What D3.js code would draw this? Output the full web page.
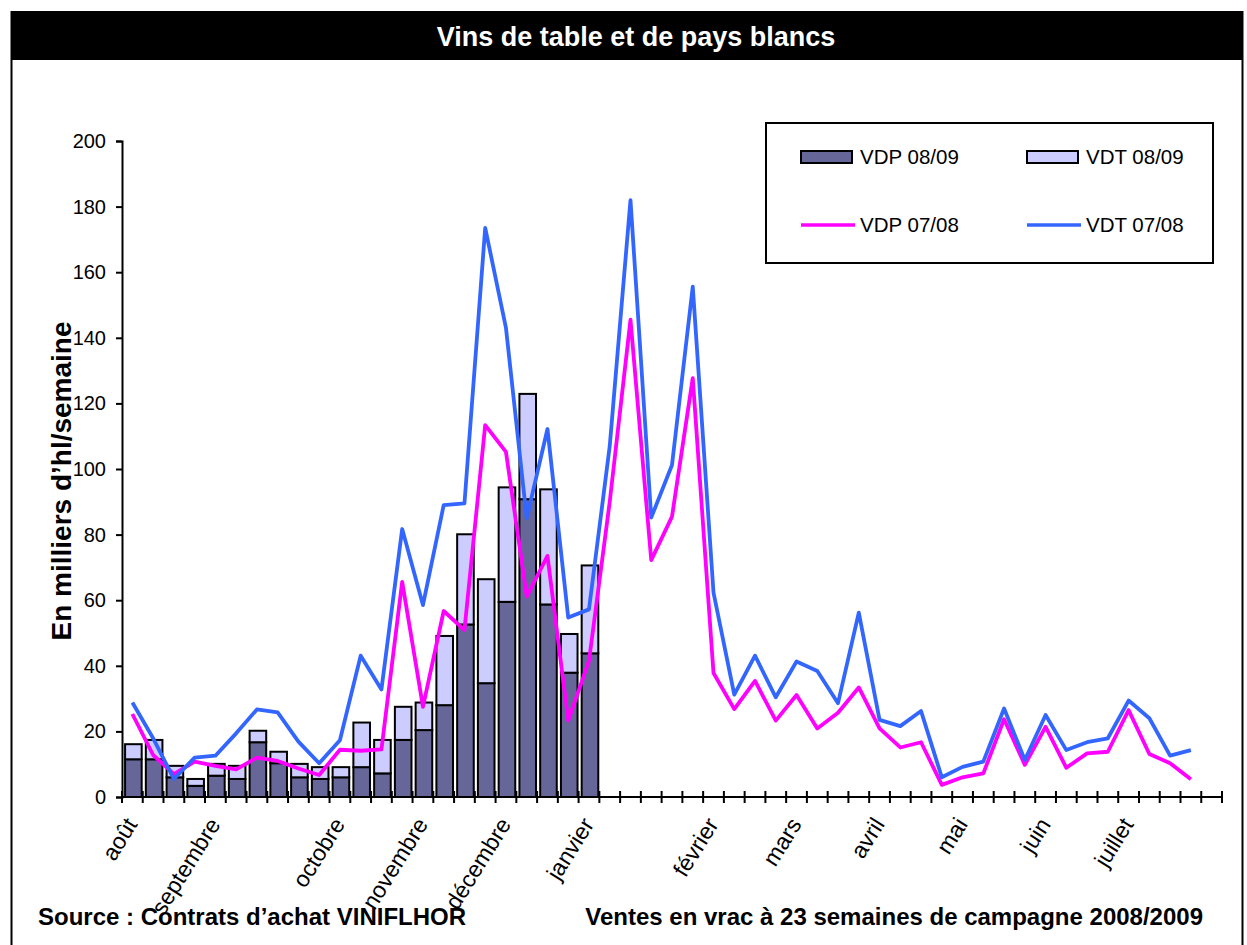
<!DOCTYPE html>
<html>
<head>
<meta charset="utf-8">
<script src="https://cdn.jsdelivr.net/npm/d3@7"></script>
<style>
  body { margin: 0; background: #fff; }
  svg { display: block; font-family: "Liberation Sans", Arial, sans-serif; }
</style>
</head>
<body>
<div id="chart"></div>
<script>
// campagne 2008/2009 : 23 semaines connues (milliers d'hl)
const vdp0809 = [11.5, 11.5, 6.0, 3.4, 6.5, 5.5, 16.7, 10.3, 6.0, 5.5, 6.0, 9.1, 7.2,
  17.4, 20.4, 28.0, 52.6, 34.7, 59.5, 90.8, 58.7, 37.9, 43.8];
const vdt0809 = [4.6, 5.9, 3.5, 2.1, 3.6, 4.0, 3.5, 3.5, 4.1, 3.6, 3.1, 13.6, 10.2,
  10.1, 8.4, 21.1, 27.5, 31.7, 34.9, 32.1, 35.1, 11.8, 26.8];

// campagne 2007/2008 : 52 semaines
const vdp0708 = [25.3, 12.8, 7.0, 10.8, 9.5, 8.4, 12.0, 11.0, 8.7, 6.7, 14.4, 14.1, 14.5,
  65.6, 27.5, 56.7, 50.9, 113.4, 105.2, 61.1, 73.5, 23.3, 41.5, 90.0, 145.5, 72.2,
  85.5, 127.7, 37.8, 26.8, 35.4, 23.3, 31.1, 20.9, 25.7, 33.4, 20.9, 15.1, 16.7,
  3.7, 6.0, 7.2, 23.7, 9.8, 21.4, 8.9, 13.3, 13.8, 26.5, 13.1, 10.3, 5.4];
const vdt0708 = [28.8, 17.9, 5.5, 12.0, 12.6, 19.4, 26.7, 25.8, 16.9, 10.3, 17.3, 43.1, 32.8,
  81.7, 58.5, 89.0, 89.5, 173.5, 143.0, 85.0, 112.2, 54.7, 57.2, 107.0, 182.0, 85.2,
  101.2, 155.6, 62.3, 31.2, 43.1, 30.4, 41.3, 38.4, 28.6, 56.2, 23.5, 21.6, 26.2,
  6.0, 9.2, 10.8, 27.0, 11.3, 25.0, 14.3, 16.7, 17.9, 29.4, 24.0, 12.6, 14.3];

const monthNames = ['août', 'septembre', 'octobre', 'novembre', 'décembre', 'janvier',
  'février', 'mars', 'avril', 'mai', 'juin', 'juillet'];
const monthWeek = [0, 4, 10, 14, 18, 22, 28, 32, 36, 40, 44, 48];
const nWeeks = 53;
const yTicks = [0, 20, 40, 60, 80, 100, 120, 140, 160, 180, 200];

const W = 1247, H = 945;
const svg = d3.select('#chart').append('svg').attr('width', W).attr('height', H);

// cadre + bandeau titre
svg.append('rect').attr('x', 11.5).attr('y', 12).attr('width', 1231).attr('height', 940)
  .attr('fill', 'none').attr('stroke', '#000').attr('stroke-width', 2);
svg.append('rect').attr('x', 11).attr('y', 12).attr('width', 1232).attr('height', 48).attr('fill', '#000');
svg.append('text').attr('x', 636).attr('y', 46).attr('text-anchor', 'middle')
  .attr('fill', '#fff').style('font-size', '27px').style('font-weight', 'bold')
  .text('Vins de table et de pays blancs');

const weeks = d3.range(nWeeks);
const x = d3.scaleBand().domain(weeks).range([122, 1222]);
const y = d3.scaleLinear().domain([0, 200]).range([797, 141]);
const cx = i => x(i) + x.bandwidth() / 2;

// barres empilées 08/09
const stackData = vdp0809.map((v, i) => ({ week: i, vdp: v, vdt: vdt0809[i] }));
const series = d3.stack().keys(['vdp', 'vdt'])(stackData);
const fills = { vdp: '#666699', vdt: '#CCCCFF' };
const barW = x.bandwidth() * 0.8;

svg.append('g').selectAll('g')
  .data(series)
  .enter().append('g')
  .attr('fill', d => fills[d.key])
  .selectAll('rect')
  .data(d => d)
  .enter().append('rect')
  .attr('x', d => cx(d.data.week) - barW / 2 + 1)
  .attr('y', d => y(d[1]))
  .attr('width', barW)
  .attr('height', d => y(d[0]) - y(d[1]))
  .attr('stroke', '#000')
  .attr('stroke-width', 2);

// axe Y
const yAxis = svg.append('g').attr('transform', 'translate(122,0)')
  .call(d3.axisLeft(y).tickValues(yTicks).tickSize(6).tickPadding(10));
yAxis.selectAll('text').style('font-size', '20px').attr('fill', '#000')
  .style('font-family', '"Liberation Sans", Arial, sans-serif');
yAxis.selectAll('line').attr('stroke', '#000').attr('stroke-width', 2);
yAxis.select('.domain').attr('stroke', '#000').attr('stroke-width', 2);

svg.append('text')
  .attr('transform', 'translate(71,481) rotate(-90)')
  .attr('text-anchor', 'middle')
  .style('font-size', '28px').style('font-weight', 'bold')
  .text('En milliers  d\u2019hl/semaine');

// axe X : graduations croisées aux limites de semaines
const bounds = d3.range(nWeeks + 1);
const xg = svg.append('g');
xg.append('line').attr('x1', x.range()[0]).attr('x2', x.range()[1])
  .attr('y1', y(0)).attr('y2', y(0)).attr('stroke', '#000').attr('stroke-width', 2);
xg.selectAll('.tick')
  .data(bounds)
  .enter().append('line')
  .attr('x1', d => x.range()[0] + d * x.step())
  .attr('x2', d => x.range()[0] + d * x.step())
  .attr('y1', y(0) - 6).attr('y2', y(0) + 6)
  .attr('stroke', '#000').attr('stroke-width', 2);

xg.selectAll('.month')
  .data(monthNames)
  .enter().append('text')
  .attr('text-anchor', 'end')
  .attr('transform', (d, i) => `translate(${cx(monthWeek[i]) - 1},${y(0) + 23}) rotate(-58)`)
  .attr('dy', '0.35em')
  .style('font-size', '23px')
  .text(d => d);

// courbes 07/08
const line = d3.line().x((d, i) => cx(i)).y(d => y(d));
svg.append('path').datum(vdp0708)
  .attr('fill', 'none').attr('stroke', '#FF00FF').attr('stroke-width', 3.8)
  .attr('stroke-linejoin', 'round').attr('d', line);
svg.append('path').datum(vdt0708)
  .attr('fill', 'none').attr('stroke', '#3366FF').attr('stroke-width', 3.8)
  .attr('stroke-linejoin', 'round').attr('d', line);

// légende
const lg = svg.append('g');
lg.append('rect').attr('x', 766).attr('y', 123).attr('width', 447).attr('height', 140)
  .attr('fill', '#fff').attr('stroke', '#000').attr('stroke-width', 2);
const legendItems = [
  { label: 'VDP 08/09', type: 'bar', color: '#666699', lx: 801, ly: 157 },
  { label: 'VDT 08/09', type: 'bar', color: '#CCCCFF', lx: 1027, ly: 157 },
  { label: 'VDP 07/08', type: 'line', color: '#FF00FF', lx: 801, ly: 225 },
  { label: 'VDT 07/08', type: 'line', color: '#3366FF', lx: 1027, ly: 225 }
];
legendItems.forEach(d => {
  if (d.type === 'bar') {
    lg.append('rect').attr('x', d.lx).attr('y', d.ly - 6).attr('width', 51).attr('height', 12)
      .attr('fill', d.color).attr('stroke', '#000').attr('stroke-width', 2);
  } else {
    lg.append('line').attr('x1', d.lx).attr('x2', d.lx + 54).attr('y1', d.ly).attr('y2', d.ly)
      .attr('stroke', d.color).attr('stroke-width', 3.5);
  }
  lg.append('text').attr('x', d.lx + 59).attr('y', d.ly).attr('dy', '0.35em')
    .style('font-size', '20.5px').text(d.label);
});

// pied
svg.append('text').attr('x', 38).attr('y', 925)
  .style('font-size', '24px').style('font-weight', 'bold')
  .text('Source : Contrats d\u2019achat VINIFLHOR');
svg.append('text').attr('x', 1203).attr('y', 925).attr('text-anchor', 'end')
  .style('font-size', '24px').style('font-weight', 'bold')
  .text('Ventes en vrac à 23 semaines de campagne 2008/2009');
</script>
</body>
</html>
